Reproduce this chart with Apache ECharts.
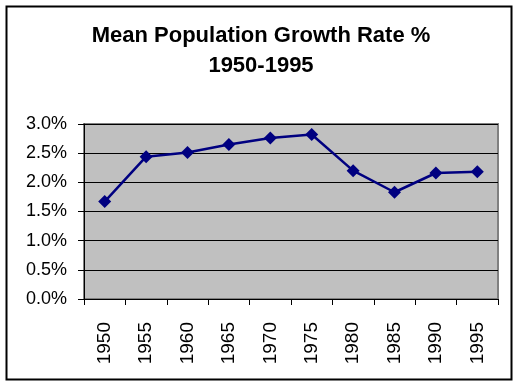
<!DOCTYPE html>
<html>
<head>
<meta charset="utf-8">
<script src="https://cdn.jsdelivr.net/npm/echarts@6/dist/echarts.min.js"></script>
<style>
html,body{margin:0;padding:0;background:#fff;}
#c{width:522px;height:389px;}
</style>
</head>
<body>
<div id="c"></div>
<script>
var years = ['1950','1955','1960','1965','1970','1975','1980','1985','1990','1995'];
var growthRate = [1.67, 2.44, 2.51, 2.65, 2.76, 2.82, 2.20, 1.83, 2.16, 2.18];
var yTicks = [0, 0.5, 1.0, 1.5, 2.0, 2.5, 3.0];

var chart = echarts.init(document.getElementById('c'), null, {renderer:'canvas'});
chart.setOption({
  animation: false,
  backgroundColor: '#ffffff',
  title: {
    text: 'Mean Population Growth Rate %\n1950-1995',
    left: 'center',
    top: 16,
    textStyle: {
      fontFamily: 'Liberation Sans, Arial, sans-serif',
      fontSize: 22,
      fontWeight: 'bold',
      color: '#000',
      lineHeight: 30
    }
  },
  graphic: [{
    type: 'rect',
    shape: {x: 6.5, y: 6.5, width: 505, height: 373},
    style: {fill: 'none', stroke: '#000', lineWidth: 2},
    silent: true
  }],
  grid: {
    left: 84, top: 124, width: 414, height: 175,
    show: true,
    backgroundColor: '#C0C0C0',
    borderColor: '#808080',
    borderWidth: 2
  },
  xAxis: {
    type: 'category',
    data: years,
    boundaryGap: true,
    axisLine: {lineStyle: {color: '#000', width: 1}},
    axisTick: {show: true, length: 6, alignWithLabel: false, lineStyle: {color: '#000'}},
    axisLabel: {
      rotate: 90,
      margin: 23,
      fontFamily: 'Liberation Sans, Arial, sans-serif',
      fontSize: 19,
      color: '#000',
      interval: 0
    },
    splitLine: {show: false}
  },
  yAxis: {
    type: 'value',
    min: 0, max: 3, interval: 0.5,
    axisLine: {show: true, lineStyle: {color: '#000', width: 1}},
    axisTick: {show: true, length: 6, lineStyle: {color: '#000'}},
    axisLabel: {
      margin: 17,
      fontFamily: 'Liberation Sans, Arial, sans-serif',
      fontSize: 18,
      color: '#000',
      formatter: function(v){ return v.toFixed(1) + '%'; }
    },
    splitLine: {show: true, lineStyle: {color: '#000', width: 1}}
  },
  series: [{
    type: 'line',
    data: growthRate,
    symbol: 'diamond',
    symbolSize: 13,
    lineStyle: {color: '#000080', width: 2.5},
    itemStyle: {color: '#000080'}
  }]
});
</script>
</body>
</html>
